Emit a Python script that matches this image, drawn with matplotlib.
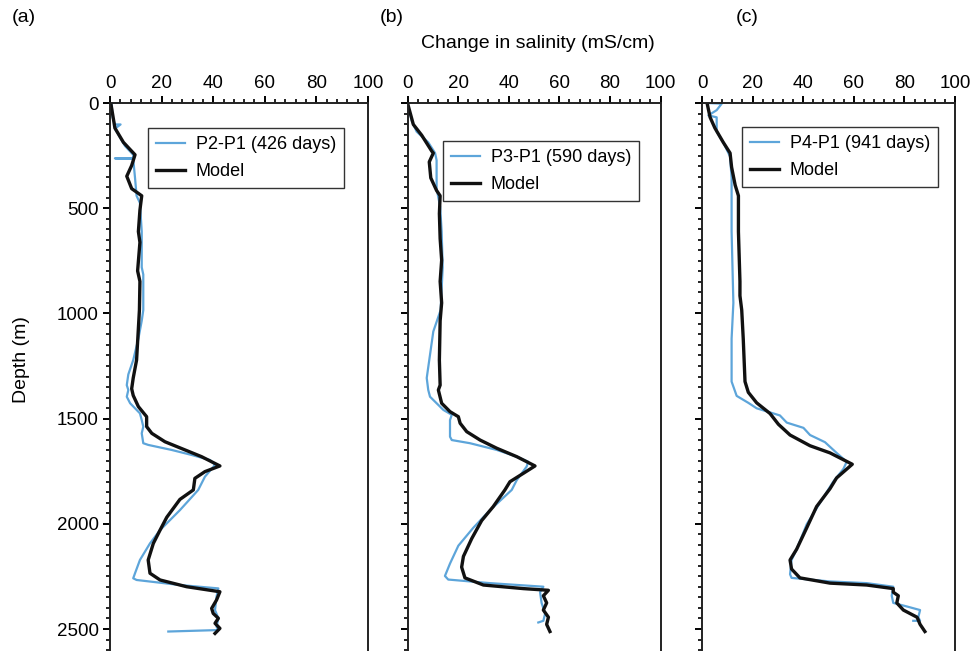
import numpy as np
import matplotlib
matplotlib.use("Agg")
import matplotlib.pyplot as plt
from matplotlib.ticker import MultipleLocator

plt.rcParams['font.family'] = ['Liberation Sans', 'DejaVu Sans']

# salinity change (mS/cm) vs depth (m), observed profile differences and model
a_obs_sal = [0.6, 1.0, 1.9, 4.1, 1.9, 5.8, 9.0, 9.0, 1.9, 9.0, 9.7, 10.3, 11.6, 12.3, 12.3, 12.9, 12.9,
             12.3, 11.0, 9.0, 7.1, 6.5, 7.1, 6.5, 7.8, 11.6, 12.3, 12.9, 12.3, 12.9, 14.8, 23.9, 31.7,
             38.8, 40.7, 36.8, 34.2, 27.1, 19.4, 15.5, 11.6, 9.7, 9.0, 10.3, 27.1, 42.0, 41.3, 40.7,
             42.0, 41.3, 42.0, 22.6]
a_obs_dep = [0, 68, 102, 102, 122, 204, 246, 263, 263, 266, 356, 441, 475, 611, 781, 815, 984,
             1035, 1120, 1222, 1290, 1341, 1364, 1396, 1427, 1475, 1507, 1538, 1570, 1617, 1625, 1649, 1673,
             1697, 1720, 1776, 1839, 1935, 2030, 2093, 2172, 2235, 2259, 2267, 2291, 2307, 2346, 2410,
             2449, 2489, 2505, 2512]
a_mod_sal = [0.3, 1.9, 5.2, 9.7, 8.4, 6.5, 8.4, 12.3, 11.6, 11.0, 11.6, 10.7, 11.6, 11.4, 10.3, 9.0,
             8.4, 9.0, 11.0, 14.2, 14.2, 16.2, 21.3, 29.1, 35.5, 42.6, 36.8, 32.9, 32.3, 27.1, 22.0,
             19.4, 16.8, 14.8, 15.5, 19.4, 29.7, 42.6, 41.3, 39.4, 40.0, 42.0, 40.7, 42.6, 40.7]
a_mod_dep = [0, 119, 187, 246, 297, 348, 407, 441, 509, 611, 662, 798, 848, 984, 1222, 1307,
             1358, 1390, 1443, 1491, 1538, 1570, 1610, 1649, 1681, 1725, 1752, 1784, 1839, 1884, 1969,
             2030, 2093, 2172, 2235, 2267, 2299, 2323, 2362, 2402, 2426, 2449, 2473, 2497, 2521]

b_obs_sal = [0.0, 1.7, 3.6, 8.2, 10.9, 11.5, 11.5, 12.9, 13.5, 13.9, 13.1, 10.2, 8.2, 7.6, 8.2, 8.9,
             11.5, 14.2, 17.5, 16.8, 16.8, 17.5, 24.7, 35.3, 43.2, 47.7, 47.1, 43.2, 41.2, 32.6, 26.0,
             20.1, 16.8, 14.8, 16.1, 32.6, 53.7, 52.4, 53.0, 54.4, 53.7, 51.7]
b_obs_dep = [0, 85, 136, 187, 238, 272, 407, 492, 611, 781, 984, 1086, 1256, 1307, 1364, 1396,
             1427, 1459, 1482, 1507, 1586, 1602, 1617, 1649, 1681, 1705, 1728, 1792, 1839, 1935, 2019,
             2104, 2189, 2248, 2265, 2282, 2299, 2325, 2376, 2427, 2461, 2469]
b_mod_sal = [0.0, 2.3, 5.6, 9.6, 10.2, 8.6, 9.2, 11.5, 12.9, 12.6, 12.9, 13.5, 12.9, 13.5, 12.9, 12.6,
             12.9, 12.2, 13.5, 16.8, 20.1, 20.8, 23.4, 28.7, 35.3, 43.2, 50.4, 45.8, 40.5, 38.5, 33.9,
             29.3, 25.4, 22.1, 21.4, 22.7, 30.0, 45.8, 55.7, 53.7, 55.0, 53.7, 55.7, 55.0, 56.3]
b_mod_dep = [0, 102, 153, 229, 238, 280, 356, 416, 441, 526, 645, 747, 848, 950, 1035, 1222,
             1341, 1364, 1427, 1467, 1491, 1522, 1562, 1602, 1641, 1681, 1725, 1760, 1800, 1839, 1918,
             1985, 2070, 2155, 2206, 2257, 2291, 2308, 2316, 2342, 2376, 2410, 2444, 2478, 2512]

c_obs_sal = [2.0, 7.8, 5.8, 2.5, 5.8, 5.8, 8.4, 11.1, 11.7, 11.7, 12.4, 11.7, 11.7, 13.7, 18.3, 21.6,
             30.8, 33.5, 40.1, 42.7, 48.6, 53.2, 57.2, 55.9, 51.9, 46.6, 41.4, 37.4, 35.4, 34.8, 35.4,
             50.6, 65.1, 75.6, 75.0, 75.6, 81.0, 86.2, 85.5, 86.2, 83.5]
c_obs_dep = [0, 3, 34, 59, 68, 136, 187, 255, 356, 611, 950, 1120, 1324, 1392, 1425, 1451,
             1485, 1519, 1544, 1578, 1612, 1663, 1705, 1739, 1799, 1901, 2002, 2121, 2172, 2240, 2257,
             2274, 2282, 2299, 2342, 2376, 2393, 2410, 2444, 2461, 2461]
c_mod_sal = [2.0, 3.2, 5.1, 8.4, 11.1, 11.7, 13.1, 14.4, 14.4, 15.0, 15.0, 15.7, 16.3, 17.0, 18.3, 21.6,
             26.9, 30.2, 34.8, 42.7, 50.6, 59.4, 53.2, 50.6, 45.3, 41.4, 37.4, 34.8, 35.4, 38.7, 50.6,
             65.1, 75.6, 75.6, 77.6, 77.0, 79.6, 85.0, 86.2, 88.1]
c_mod_dep = [0, 68, 119, 187, 238, 305, 390, 441, 611, 848, 916, 984, 1120, 1324, 1375, 1425,
             1476, 1527, 1578, 1629, 1663, 1717, 1782, 1833, 1918, 2019, 2121, 2172, 2215, 2257, 2282,
             2291, 2308, 2325, 2342, 2376, 2410, 2444, 2478, 2512]

obs_labels = ['P2-P1 (426 days)', 'P3-P1 (590 days)', 'P4-P1 (941 days)']
panel_tags = ['(a)', '(b)', '(c)']

panels = [(a_obs_sal, a_obs_dep, a_mod_sal, a_mod_dep),
          (b_obs_sal, b_obs_dep, b_mod_sal, b_mod_dep),
          (c_obs_sal, c_obs_dep, c_mod_sal, c_mod_dep)]

W, H = 977, 651
fig = plt.figure(figsize=(W / 100, H / 100), dpi=100)

# axes boxes in pixels: left, right; top edge shared, bottom runs off the page
lefts = [110, 407.5, 702]
rights = [368, 660.5, 955]
top_px, bot_px = 103, 660
leg_pos = [(0.147, 0.955), (0.14, 0.932), (0.158, 0.957)]
tag_x = [24, 392, 747]

blue = '#5da5da'
for i, (os_, od, ms, md) in enumerate(panels):
    ax = fig.add_axes([lefts[i] / W, 1 - bot_px / H, (rights[i] - lefts[i]) / W, (bot_px - top_px) / H])
    ax.plot(os_, od, color=blue, lw=1.6, label=obs_labels[i])
    ax.plot(ms, md, color='#111111', lw=2.4, label='Model')
    ax.set_xlim(0, 100)
    ax.set_ylim((bot_px - top_px) / 0.2104, 0)
    ax.xaxis.tick_top()
    ax.xaxis.set_major_locator(MultipleLocator(20))
    ax.xaxis.set_minor_locator(MultipleLocator(4))
    ax.yaxis.set_major_locator(MultipleLocator(500))
    ax.yaxis.set_minor_locator(MultipleLocator(50))
    ax.tick_params(which='major', direction='out', length=5, width=1.4, labelsize=13.5, pad=3)
    ax.tick_params(which='minor', direction='out', length=3, width=1.2)
    ax.tick_params(axis='x', which='both', top=True, bottom=False)
    ax.tick_params(axis='y', which='both', left=True, right=False)
    if i > 0:
        ax.set_yticklabels([])
    for sp in ax.spines.values():
        sp.set_linewidth(1.4)
        sp.set_color('#222222')
    leg = ax.legend(loc='upper left', bbox_to_anchor=leg_pos[i], fontsize=13, frameon=True,
                    fancybox=False, edgecolor='black', borderaxespad=0, handlelength=1.6,
                    handletextpad=0.6, labelspacing=0.55, borderpad=0.45)
    leg.get_frame().set_linewidth(1.0)
    fig.text(tag_x[i] / W, 1 - 18 / H, panel_tags[i], ha='center', va='center', fontsize=14)

fig.text(538 / W, 1 - 43 / H, 'Change in salinity (mS/cm)', ha='center', va='center', fontsize=14)
fig.text(22 / W, 1 - 360 / H, 'Depth (m)', ha='center', va='center', rotation=90, fontsize=14)

fig.savefig('out.png', dpi=100)
